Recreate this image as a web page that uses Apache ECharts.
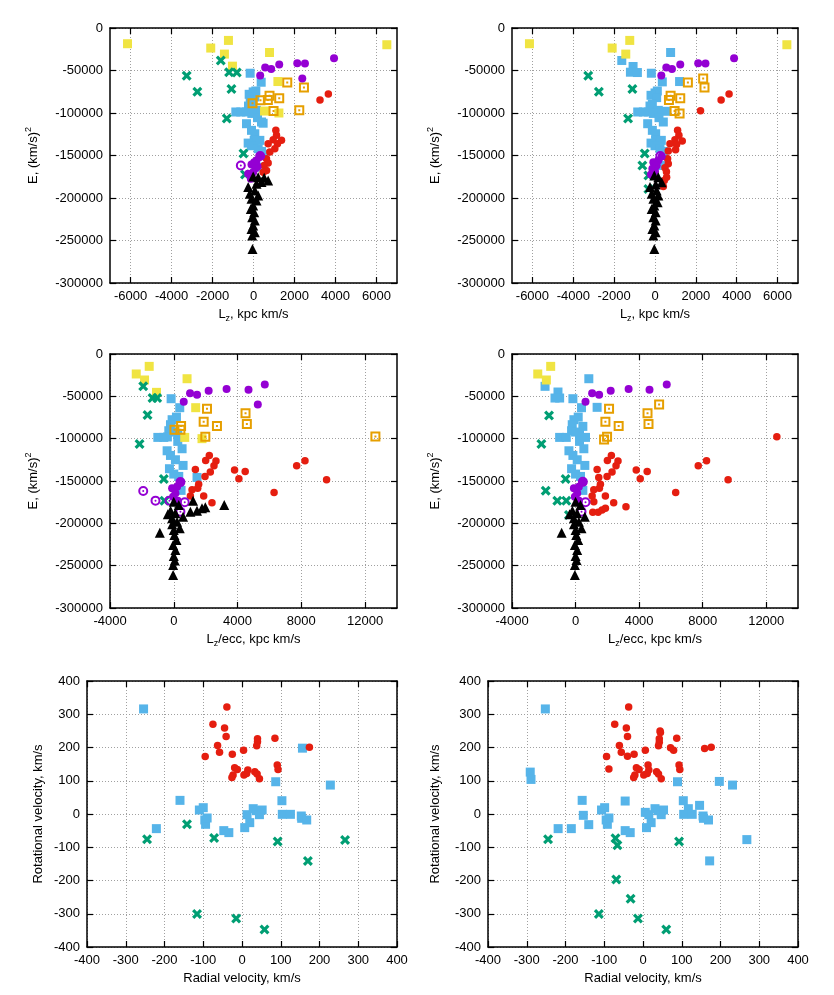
<!DOCTYPE html>
<html lang="en">
<head>
<meta charset="UTF-8">
<title>E - Lz scatter panels</title>
<style>
  html, body { margin: 0; padding: 0; background: #fff; }
  #main { width: 834px; height: 995px; }
</style>
<script src="https://cdn.jsdelivr.net/npm/echarts@6.0.0/dist/echarts.min.js"></script>
</head>
<body>
<div id="main"></div>
<script>
  // ---- tick labels ----
  var lzTicks = [-6000, -4000, -2000, 0, 2000, 4000, 6000];
  var lzEccTicks = [-4000, 0, 4000, 8000, 12000];
  var energyTicks = [0, -50000, -100000, -150000, -200000, -250000, -300000];
  var velTicks = [-400, -300, -200, -100, 0, 100, 200, 300, 400];

  // ---- panel 1: Lz vs E, left classification ----
  var lzA_blue = [[-163,-53200],[375,-63800],[-16,-75200],[-211,-78000],[65,-81100],[114,-74100],[-160,-87000],[-98,-89800],[-245,-91800],
    [-862,-98800],[-618,-98800],[-350,-98800],[146,-96900],[-82,-100500],[195,-105500],[390,-110600],[470,-112000],[-341,-112600],
    [-98,-120400],[65,-124400],[33,-132200],[309,-132200],[-260,-135400],[-98,-138500],[228,-142000],[390,-145200],[520,-148500],[390,-163700]];
  var lzA_yellow = [[-6145,-18500],[-2086,-23600],[-1222,-14600],[-1418,-30700],[-1027,-44900],[782,-28800],[1190,-63000],[538,-97700],[1239,-100000],[6504,-19700]];
  var lzA_green = [[-3260,-56300],[-2738,-74900],[-1597,-38200],[-1190,-52000],[-815,-52400],[-1076,-71700],[-1304,-106400],[-489,-147700],[-415,-172300]];
  var lzA_orange = [[1646,-64200],[2461,-70100],[782,-79600],[1255,-82700],[-49,-88600],[342,-85100],[700,-84700],[978,-97700],[2233,-96900]];
  var lzA_red = [[3244,-84700],[3651,-77600],[1090,-120400],[1122,-126300],[960,-131400],[1366,-132200],[1170,-136100],[715,-136100],
    [1040,-142000],[797,-146000],[634,-153800],[715,-158900],[520,-161700],[634,-167600],[472,-169600]];
  var lzA_purple = [[570,-46500],[864,-48100],[1255,-42900],[326,-55900],[2135,-41400],[2510,-41800],[2380,-59500],[3928,-35500],
    [309,-151100],[146,-155800],[33,-157800],[-98,-160500],[195,-162900],[100,-165000],[-16,-169600],[-260,-171500],[-130,-177400]];
  var lzA_purpleRing = [[-618,-161700],[326,-150500]];
  var lzA_black = [[-16,-174700],[228,-175500],[520,-176200],[715,-179400],[390,-181300],[146,-183300],[-260,-187200],[65,-191100],
    [-179,-195100],[228,-197000],[-98,-201000],[146,-203000],[-16,-208900],[-130,-212800],[33,-216700],[-65,-222600],[65,-226500],
    [-16,-232400],[-98,-236400],[65,-240300],[-65,-244200],[-49,-260000]];

  // ---- panel 2: Lz vs E, right classification ----
  var lzB_blue = [[764,-28800],[-1626,-38200],[-1073,-45300],[-1203,-52000],[-862,-52400],[-179,-53200],[358,-63400],[1203,-63000],
    [0,-76400],[114,-74100],[-195,-79200],[81,-81900],[-130,-89800],[-245,-91800],[-846,-98800],[-569,-98800],[-325,-98800],[163,-96900],
    [520,-98000],[-82,-100500],[195,-105500],[407,-110600],[-358,-112600],[-130,-120400],[33,-124400],[33,-132200],[309,-132200],
    [-195,-135400],[0,-138500],[244,-142000],[407,-145200],[325,-161700]];
  var lzB_yellow = [[-6146,-18500],[-2097,-23600],[-1236,-14600],[-1431,-30700],[6455,-19700]];
  var lzB_green = [[-3268,-56300],[-2748,-74900],[-1106,-71700],[-1317,-106400],[-504,-147700],[-618,-161700],[-325,-173500],[-325,-189300]];
  var lzB_orange = [[1610,-64200],[2358,-59500],[2423,-70100],[764,-79600],[1236,-82700],[683,-84700],[959,-97700],[1203,-100500]];
  var lzB_red = [[2228,-97300],[3236,-84700],[3626,-77600],[1106,-120400],[1171,-126300],[976,-131400],[1333,-133000],[1057,-137000],
    [732,-136100],[1008,-143200],[650,-144800],[618,-153800],[650,-159700],[488,-164500],[560,-169000],[569,-175500],[455,-179400],[407,-186500]];
  var lzB_purple = [[309,-55900],[553,-46500],[829,-48100],[1236,-42900],[2114,-41400],[2471,-41800],[3870,-35500],
    [325,-151100],[-81,-157800],[163,-155800],[81,-161700],[-130,-165600],[0,-168400],[-195,-172300]];
  var lzB_purpleRing = [[260,-150500]];
  var lzB_black = [[-33,-173500],[163,-175500],[325,-181400],[33,-184100],[-244,-187200],[81,-191200],[-163,-195100],[163,-197100],
    [-81,-201000],[130,-204900],[-33,-208900],[-163,-212800],[33,-216700],[-81,-222600],[33,-226500],[-33,-232400],[-130,-236400],
    [33,-240300],[-81,-244200],[-33,-260000]];

  // ---- panel 3: Lz/ecc vs E, left classification ----
  var eccA_blue = [[-167,-52800],[375,-63400],[-104,-77600],[167,-74500],[-208,-83500],[-312,-90600],[-42,-92200],[250,-94500],
    [-1000,-98500],[-625,-98500],[-400,-98000],[250,-103200],[521,-111900],[-417,-114300],[-208,-119800],[104,-124900],[583,-131600],
    [-271,-135500],[0,-141800],[312,-144600],[1458,-145800],[458,-161100]];
  var eccA_yellow = [[-2354,-23600],[-1541,-14600],[-1833,-30700],[-1083,-45300],[833,-29200],[1375,-63400],[687,-98500],[1770,-100000]];
  var eccA_green = [[-1916,-38200],[-1333,-52000],[-1041,-52000],[-1646,-72100],[-2146,-106400],[-625,-147700],[-583,-173200]];
  var eccA_orange = [[2083,-64600],[4500,-70100],[1875,-80000],[2708,-85100],[458,-85100],[42,-89400],[417,-89400],[1979,-97700],
    [4583,-82700],[12645,-97300]];
  var eccA_red = [[2229,-119800],[2000,-125700],[2646,-126500],[2521,-132000],[1354,-136300],[2292,-139500],[1958,-144600],[3812,-137100],
    [4479,-138700],[4083,-147300],[7708,-132000],[8229,-126100],[9583,-148500],[1562,-153700],[1500,-158700],[1146,-160400],[6291,-163500],
    [1041,-167700],[1875,-167700],[2396,-175600]];
  var eccA_purple = [[625,-56300],[1021,-46500],[1458,-48100],[2187,-43300],[3312,-41400],[4687,-42200],[5270,-59500],[5708,-35900],
    [417,-151600],[-104,-158700],[208,-156700],[104,-164600],[-42,-168500],[250,-173200]];
  var eccA_purpleRing = [[-1916,-161800],[-1146,-173200],[-271,-173200],[687,-175200],[417,-186200],[417,-151300]];
  var eccA_black = [[0,-174400],[312,-178400],[-200,-185000],[-375,-189400],[100,-188000],[583,-192200],[-104,-194100],[208,-198100],
    [-100,-201000],[375,-205900],[0,-207900],[-875,-211100],[42,-213800],[167,-219700],[-42,-225600],[104,-231600],[0,-238600],
    [60,-244000],[-42,-249300],[-42,-261100],[1208,-173200],[1041,-186200],[1458,-185100],[1771,-182300],[1979,-181100],[3166,-178400]];

  // ---- panel 4: Lz/ecc vs E, right classification ----
  var eccB_blue = [[835,-29200],[-1920,-38200],[-1106,-44900],[-1294,-52000],[-1002,-52000],[-167,-52800],[376,-63400],[1357,-63000],
    [167,-74500],[-104,-77600],[459,-85500],[-209,-83500],[-250,-90600],[0,-92200],[250,-94600],[-1002,-98500],[-584,-98500],[626,-98500],
    [250,-103200],[522,-111900],[-417,-114300],[-167,-119800],[104,-124900],[584,-131600],[-250,-135500],[0,-141800],[313,-144600],[459,-161100]];
  var eccB_yellow = [[-2379,-23600],[-1565,-14600],[-1837,-30700]];
  var eccB_green = [[-1670,-72500],[-2150,-106400],[-626,-147700],[-1878,-161500],[-1148,-173200],[-584,-173200],[-417,-190200]];
  var eccB_orange = [[5259,-59500],[2108,-64600],[4529,-70100],[1878,-80000],[2713,-85100],[4591,-82700],[1795,-100900],[1983,-97700]];
  var eccB_red = [[12668,-97700],[2254,-119800],[2004,-125700],[2671,-126500],[2546,-132000],[1357,-136300],[2296,-139500],[1983,-144600],
    [3819,-137100],[4508,-138700],[4070,-147300],[7722,-132000],[8244,-126100],[9600,-148500],[1565,-153700],[1148,-160400],[6303,-163500],
    [1461,-145800],[1500,-158700],[1044,-167700],[1878,-167700],[1148,-174400],[2400,-175600],[3172,-180300],[1085,-187000],[1420,-187000],
    [1670,-184300],[1878,-182300]];
  var eccB_purple = [[626,-56300],[1044,-46500],[1482,-48100],[2212,-43300],[3339,-41400],[4654,-42200],[5739,-35900],
    [459,-151600],[-104,-158700],[209,-156700],[104,-164600],[-42,-168500],[209,-173200]];
  var eccB_purpleRing = [[626,-175200],[376,-186200],[459,-151000]];
  var eccB_black = [[0,-174400],[313,-178400],[-200,-185000],[-376,-189400],[100,-188000],[-104,-194100],[209,-198100],[584,-192200],
    [-100,-201000],[-876,-211100],[376,-205900],[0,-207900],[42,-213800],[167,-219700],[-42,-225600],[104,-231600],[0,-238600],
    [60,-243400],[-42,-249300],[-42,-261100]];

  // ---- panel 5: radial vs rotational velocity, left classification ----
  var velA_blue = [[-254,316],[-221,-44],[-160,41],[-110,12],[-100,19],[-96,-18],[-94,-31],[-90,-12],[-47,-50],[-34,-56],[7,-41],[13,-2],
    [20,-26],[29,16],[37,10],[45,-2],[52,12],[87,97],[103,40],[104,-1],[125,-1],[153,-6],[154,-13],[167,-18],[156,198],[228,87]];
  var velA_red = [[-39,322],[-75,270],[-45,259],[-41,233],[-63,206],[-58,186],[-95,173],[-25,180],[4,192],[40,226],[40,217],[38,205],
    [85,228],[174,201],[-19,139],[-12,134],[-23,117],[-26,110],[5,117],[15,132],[12,122],[33,127],[39,120],[45,106],[91,147],[93,134]];
  var velA_green = [[-245,-76],[-142,-31],[-72,-72],[92,-83],[170,-141],[266,-78],[-116,-301],[-15,-314],[58,-347]];

  // ---- panel 6: radial vs rotational velocity, right classification ----
  var velB_blue = [[-252,316],[-291,126],[-289,104],[-219,-44],[-185,-44],[-157,41],[-154,-4],[-140,-32],[-107,12],[-99,19],[-95,-18],
    [-92,-31],[-88,-12],[-46,39],[-46,-50],[-33,-56],[9,-41],[6,5],[15,-2],[21,-26],[31,16],[39,10],[47,-2],[53,12],[89,97],[104,40],
    [105,-1],[117,16],[127,-1],[146,26],[155,-6],[156,-13],[169,-18],[197,98],[231,87],[268,-77],[172,-141]];
  var velB_red = [[-37,322],[-73,270],[-43,259],[-40,233],[-61,206],[-56,186],[-94,173],[-23,180],[6,192],[-88,135],[-40,174],[44,250],
    [45,245],[42,226],[42,216],[40,205],[87,228],[71,199],[79,192],[159,197],[176,201],[-17,139],[-10,134],[-21,117],[-24,110],[2,117],
    [13,147],[15,132],[11,122],[35,127],[40,120],[47,106],[93,147],[95,134]];
  var velB_green = [[-245,-76],[-71,-73],[-66,-94],[93,-83],[-69,-197],[-32,-255],[-114,-301],[-13,-314],[60,-347]];

  // ---- marker styles (gnuplot default palette) ----
  var font = '"Liberation Sans", Arial, sans-serif';
  var ringSquare = 'path://M0,0H20V20H0Z M4,4V16H16V4Z M8,8H12V12H8Z';
  var ringCircle = 'path://M10,0A10,10 0 1,1 10,20A10,10 0 1,1 10,0Z M10,4A6,6 0 1,0 10,16A6,6 0 1,0 10,4Z M10,8A2,2 0 1,1 10,12A2,2 0 1,1 10,8Z';
  var thickCross = 'path://M0,4.5L4.5,0L10,5.5L15.5,0L20,4.5L14.5,10L20,15.5L15.5,20L10,14.5L4.5,20L0,15.5L5.5,10Z';

  var mk = {
    blue:   { symbol: 'rect', size: 9, color: '#56b4e9' },
    yellow: { symbol: 'rect', size: 9, color: '#f0e442' },
    green:  { symbol: thickCross, size: 10, color: '#009e73' },
    orange: { symbol: ringSquare, size: 10, color: '#e69f00' },
    red:    { symbol: 'circle', size: 7.5, color: '#e51e10' },
    purple: { symbol: 'circle', size: 8, color: '#9400d3' },
    ring:   { symbol: ringCircle, size: 10, color: '#9400d3' },
    black:  { symbol: 'triangle', size: 10, color: '#000000' }
  };

  var rich = {
    n: { fontSize: 13, fontFamily: font, color: '#000', lineHeight: 18, verticalAlign: 'middle' },
    s: { fontSize: 9, fontFamily: font, color: '#000', lineHeight: 18, verticalAlign: 'bottom' },
    p: { fontSize: 9, fontFamily: font, color: '#000', lineHeight: 18, verticalAlign: 'top' }
  };
  var nameLz = '{n|L}{s|z}{n|, kpc km/s}';
  var nameLzEcc = '{n|L}{s|z}{n|/ecc, kpc km/s}';
  var nameE = '{n|E, (km/s)}{p|2}';

  var panels = [
    { box: [110, 28, 287, 255], xr: [-7000, 7000], yr: [-300000, 0], xt: lzTicks, yt: energyTicks, xn: nameLz, yn: nameE, xg: 22, yg: 68,
      sets: [[lzA_blue, 'blue'], [lzA_yellow, 'yellow'], [lzA_green, 'green'], [lzA_orange, 'orange'], [lzA_red, 'red'], [lzA_purple, 'purple'], [lzA_purpleRing, 'ring'], [lzA_black, 'black']] },
    { box: [512, 28, 286, 255], xr: [-7000, 7000], yr: [-300000, 0], xt: lzTicks, yt: energyTicks, xn: nameLz, yn: nameE, xg: 22, yg: 68,
      sets: [[lzB_blue, 'blue'], [lzB_yellow, 'yellow'], [lzB_green, 'green'], [lzB_orange, 'orange'], [lzB_red, 'red'], [lzB_purple, 'purple'], [lzB_purpleRing, 'ring'], [lzB_black, 'black']] },
    { box: [110, 354, 287, 254], xr: [-4000, 14000], yr: [-300000, 0], xt: lzEccTicks, yt: energyTicks, xn: nameLzEcc, yn: nameE, xg: 22, yg: 68,
      sets: [[eccA_blue, 'blue'], [eccA_yellow, 'yellow'], [eccA_green, 'green'], [eccA_orange, 'orange'], [eccA_red, 'red'], [eccA_purple, 'purple'], [eccA_purpleRing, 'ring'], [eccA_black, 'black']] },
    { box: [512, 354, 286, 254], xr: [-4000, 14000], yr: [-300000, 0], xt: lzEccTicks, yt: energyTicks, xn: nameLzEcc, yn: nameE, xg: 22, yg: 68,
      sets: [[eccB_blue, 'blue'], [eccB_yellow, 'yellow'], [eccB_green, 'green'], [eccB_orange, 'orange'], [eccB_red, 'red'], [eccB_purple, 'purple'], [eccB_purpleRing, 'ring'], [eccB_black, 'black']] },
    { box: [87, 681, 310, 266], xr: [-400, 400], yr: [-400, 400], xt: velTicks, yt: velTicks, xn: '{n|Radial velocity, km/s}', yn: '{n|Rotational velocity, km/s}', xg: 22, yg: 40,
      sets: [[velA_blue, 'blue'], [velA_red, 'red'], [velA_green, 'green']] },
    { box: [488, 681, 310, 266], xr: [-400, 400], yr: [-400, 400], xt: velTicks, yt: velTicks, xn: '{n|Radial velocity, km/s}', yn: '{n|Rotational velocity, km/s}', xg: 22, yg: 44,
      sets: [[velB_blue, 'blue'], [velB_red, 'red'], [velB_green, 'green']] }
  ];

  function mainAxis(pos, gi, range, ticks, name, gap) {
    return {
      type: 'value', gridIndex: gi, position: pos, min: range[0], max: range[1],
      axisLine: { show: true, onZero: false, lineStyle: { color: '#000', width: 1.5 } },
      axisTick: { show: true, inside: true, length: 6, customValues: ticks, lineStyle: { color: '#000', width: 1.2 } },
      axisLabel: { show: true, customValues: ticks, margin: 7, color: '#000', fontSize: 13, fontFamily: font,
        formatter: function (v) { return String(v); } },
      splitLine: { show: true, lineStyle: { color: '#a0a0a0', width: 1, type: [1, 2] } },
      name: name, nameLocation: 'middle', nameGap: gap,
      nameTextStyle: { color: '#000', fontSize: 13, fontFamily: font, rich: rich }
    };
  }
  function mirrorAxis(pos, gi, range, ticks) {
    return {
      type: 'value', gridIndex: gi, position: pos, min: range[0], max: range[1],
      axisLine: { show: true, onZero: false, lineStyle: { color: '#000', width: 1.5 } },
      axisTick: { show: true, inside: true, length: 6, customValues: ticks, lineStyle: { color: '#000', width: 1.2 } },
      axisLabel: { show: false },
      splitLine: { show: false }
    };
  }

  var grids = [], xAxes = [], yAxes = [], series = [];
  panels.forEach(function (p, i) {
    grids.push({ left: p.box[0], top: p.box[1], width: p.box[2], height: p.box[3], containLabel: false });
    xAxes.push(mainAxis('bottom', i, p.xr, p.xt, p.xn, p.xg));
    xAxes.push(mirrorAxis('top', i, p.xr, p.xt));
    yAxes.push(mainAxis('left', i, p.yr, p.yt, p.yn, p.yg));
    yAxes.push(mirrorAxis('right', i, p.yr, p.yt));
    p.sets.forEach(function (s) {
      var m = mk[s[1]];
      series.push({
        type: 'scatter', xAxisIndex: 2 * i, yAxisIndex: 2 * i, data: s[0],
        symbol: m.symbol, symbolSize: m.size,
        itemStyle: { color: m.color, opacity: 1 },
        silent: true
      });
    });
  });

  var chart = echarts.init(document.getElementById('main'));
  chart.setOption({
    animation: false,
    backgroundColor: '#fff',
    grid: grids,
    xAxis: xAxes,
    yAxis: yAxes,
    series: series
  });
</script>
</body>
</html>
